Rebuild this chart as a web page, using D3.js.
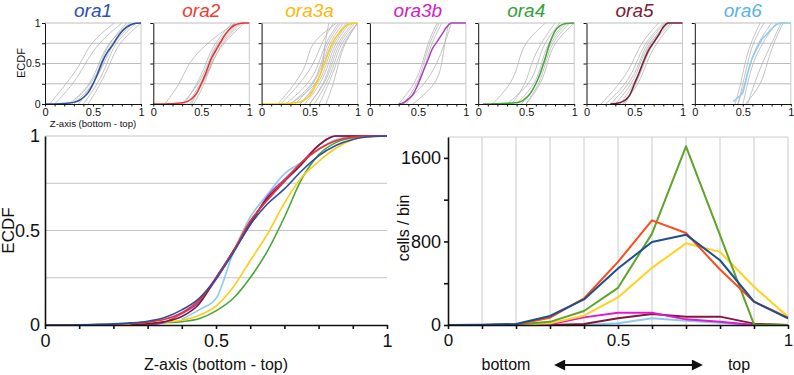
<!DOCTYPE html>
<html>
<head>
<meta charset="utf-8">
<script src="https://cdn.jsdelivr.net/npm/d3@7"></script>
<style>
  body { margin: 0; background: #fff; }
  svg { display: block; font-family: "Liberation Sans", Arial, sans-serif; }
</style>
</head>
<body>
<svg id="chart" width="794" height="375"></svg>
<script>
"use strict";

// ---- data ----
const names = ["ora1", "ora2", "ora3a", "ora3b", "ora4", "ora5", "ora6"];
const titleColors = ["#2a52b0", "#f23a32", "#ffb60a", "#cc22c4", "#33a236", "#7a2233", "#5ab2e8"];
const ecdfColors = ["#2b4ea6", "#ef3030", "#ffcc14", "#b040c0", "#44a838", "#7a1c34", "#8ccbf0"];
const histColors = ["#1b4f8e", "#ff4a1c", "#ffd21e", "#e018d0", "#5ea32a", "#82183a", "#8ccaf2"];

// pooled ECDF, read at these z positions
const ecdfX = [0, 0.05, 0.1, 0.15, 0.2, 0.25, 0.3, 0.35, 0.4, 0.45, 0.5, 0.55, 0.6, 0.65, 0.7, 0.75, 0.8, 0.85, 0.9, 0.95, 1];
const ora1Ecdf = [0, 0, 0.001, 0.003, 0.006, 0.011, 0.02, 0.04, 0.08, 0.14, 0.245, 0.38, 0.53, 0.64, 0.72, 0.815, 0.895, 0.95, 0.982, 0.996, 1];
const ora2Ecdf = [0, 0, 0, 0.002, 0.004, 0.008, 0.015, 0.03, 0.065, 0.13, 0.25, 0.39, 0.55, 0.66, 0.76, 0.86, 0.93, 0.975, 0.995, 1, 1];
const ora3aEcdf = [0, 0, 0, 0.001, 0.002, 0.004, 0.008, 0.015, 0.025, 0.05, 0.1, 0.2, 0.34, 0.48, 0.645, 0.78, 0.865, 0.935, 0.98, 0.997, 1];
const ora3bEcdf = [null, null, null, null, null, null, 0, 0.015, 0.06, 0.12, 0.24, 0.39, 0.53, 0.68, 0.77, 0.86, 0.95, 1, 1, 1, 1];
const ora4Ecdf = [null, 0, 0.001, 0.002, 0.003, 0.005, 0.008, 0.012, 0.018, 0.033, 0.075, 0.14, 0.25, 0.39, 0.57, 0.77, 0.9, 0.965, 0.99, 0.998, 1];
const ora5Ecdf = [null, null, null, null, null, 0, 0.006, 0.018, 0.045, 0.11, 0.25, 0.39, 0.54, 0.67, 0.76, 0.85, 0.95, 1, 1, 1, 1];
const ora6Ecdf = [null, null, null, null, null, null, null, null, 0.03, 0.08, 0.14, 0.38, 0.57, 0.69, 0.8, 0.86, 0.93, 0.98, 1, 1, 1];
const ecdfSeries = [ora1Ecdf, ora2Ecdf, ora3aEcdf, ora3bEcdf, ora4Ecdf, ora5Ecdf, ora6Ecdf];

// individual samples (grey): z position where ECDF reaches each level
const greyLevels = [0, 0.25, 0.5, 0.75, 1];
const ora1Grey = [
  [0.05, 0.22, 0.38, 0.46, 0.72], [0.1, 0.3, 0.42, 0.55, 0.8], [0.25, 0.5, 0.58, 0.66, 0.85],
  [0.3, 0.52, 0.6, 0.68, 0.9], [0.35, 0.5, 0.62, 0.7, 0.92], [0.28, 0.48, 0.56, 0.65, 0.88],
  [0.4, 0.55, 0.65, 0.72, 0.95], [0.45, 0.58, 0.68, 0.76, 1]
];
const ora2Grey = [
  [0.12, 0.28, 0.36, 0.55, 0.85], [0.3, 0.48, 0.57, 0.65, 0.85], [0.35, 0.5, 0.58, 0.66, 0.88],
  [0.32, 0.46, 0.55, 0.63, 0.82], [0.38, 0.52, 0.6, 0.68, 0.9], [0.4, 0.5, 0.62, 0.7, 0.92],
  [0.42, 0.54, 0.6, 0.72, 0.95]
];
const ora3aGrey = [
  [0.17, 0.35, 0.48, 0.5, 0.78], [0.2, 0.4, 0.55, 0.62, 0.75], [0.25, 0.5, 0.6, 0.66, 0.8],
  [0.3, 0.55, 0.62, 0.68, 0.82], [0.35, 0.55, 0.64, 0.7, 0.85], [0.4, 0.58, 0.65, 0.72, 0.88],
  [0.4, 0.6, 0.68, 0.74, 0.9], [0.45, 0.62, 0.7, 0.76, 0.92], [0.5, 0.65, 0.72, 0.78, 0.95],
  [0.5, 0.66, 0.74, 0.8, 0.97], [0.55, 0.68, 0.76, 0.82, 1], [0.6, 0.7, 0.78, 0.85, 1],
  [0.67, 0.75, 0.8, 0.86, 1], [0.3, 0.6, 0.64, 0.66, 0.7]
];
const ora3bGrey = [
  [0.3, 0.47, 0.55, 0.6, 0.7], [0.35, 0.5, 0.56, 0.62, 0.72], [0.38, 0.52, 0.58, 0.64, 0.75],
  [0.45, 0.7, 0.75, 0.78, 0.82], [0.35, 0.58, 0.7, 0.78, 0.85]
];
const ora4Grey = [
  [0.15, 0.35, 0.42, 0.47, 0.7], [0.3, 0.55, 0.62, 0.68, 0.85], [0.4, 0.6, 0.66, 0.72, 0.9],
  [0.45, 0.62, 0.68, 0.74, 0.92], [0.5, 0.64, 0.7, 0.76, 0.95], [0.5, 0.66, 0.72, 0.78, 1],
  [0.35, 0.5, 0.55, 0.65, 0.8]
];
const ora5Grey = [
  [0.15, 0.35, 0.48, 0.56, 0.75], [0.2, 0.42, 0.52, 0.6, 0.8], [0.25, 0.45, 0.55, 0.62, 0.82],
  [0.3, 0.48, 0.56, 0.64, 0.85], [0.35, 0.5, 0.58, 0.65, 0.86], [0.4, 0.52, 0.6, 0.68, 0.88],
  [0.38, 0.55, 0.62, 0.72, 0.9]
];
const ora6Grey = [
  [0.42, 0.48, 0.52, 0.58, 0.68], [0.45, 0.5, 0.55, 0.6, 0.72], [0.45, 0.52, 0.58, 0.65, 0.8],
  [0.5, 0.55, 0.6, 0.7, 0.85], [0.55, 0.62, 0.7, 0.8, 0.9], [0.53, 0.7, 0.75, 0.82, 0.92]
];
const greySeries = [ora1Grey, ora2Grey, ora3aGrey, ora3bGrey, ora4Grey, ora5Grey, ora6Grey];

// histogram, cells per bin
const binX = [0, 0.1, 0.2, 0.3, 0.4, 0.5, 0.6, 0.7, 0.8, 0.9, 1];
const ora1Bins = [0, 3, 10, 86, 245, 541, 795, 865, 620, 223, 64];
const ora2Bins = [0, 0, 5, 70, 254, 604, 1002, 881, 531, 223, 70];
const ora3aBins = [0, 0, 0, 16, 89, 264, 547, 782, 700, 366, 80];
const ora3bBins = [0, 0, 0, 6, 73, 118, 118, 54, 32, 0, 0];
const ora4Bins = [0, 0, 5, 30, 134, 356, 875, 1711, 860, 5, 0];
const ora5Bins = [0, 0, 0, 0, 10, 64, 105, 80, 80, 13, 0];
const ora6Bins = [0, 0, 0, 0, 0, 16, 64, 41, 22, 0, 0];
const binSeries = [ora1Bins, ora2Bins, ora3aBins, ora3bBins, ora4Bins, ora5Bins, ora6Bins];

const zTicks = [0, 0.1, 0.2, 0.3, 0.4, 0.5, 0.6, 0.7, 0.8, 0.9, 1];
const ecdfTicks = [0, 0.25, 0.5, 0.75, 1];
const countTicks = [0, 400, 800, 1200, 1600];

// ---- drawing ----
const svg = d3.select("#chart");
const labelFmt = (d) => (d === 0 || d === 0.5 || d === 1) ? String(d) : "";

function styleAxis(sel, fontSize, width) {
  sel.select(".domain").attr("stroke", "#111").attr("stroke-width", width);
  sel.selectAll(".tick line").attr("stroke", "#111").attr("stroke-width", width);
  sel.selectAll(".tick text").attr("fill", "#111").attr("font-size", fontSize).attr("font-family", null);
}

function smallPanel(i) {
  const left = 45 + i * 108.3, top = 23, w = 96, h = 81;
  const g = svg.append("g").attr("transform", `translate(${left},${top})`);
  const x = d3.scaleLinear().domain([0, 1]).range([0, w]);
  const y = d3.scaleLinear().domain([0, 1]).range([h, 0]);

  g.selectAll("line.grid").data(ecdfTicks.slice(1)).join("line")
    .attr("x1", 0).attr("x2", w).attr("y1", y).attr("y2", y)
    .attr("stroke", "#bdbdbd").attr("stroke-width", 1);
  g.append("line").attr("x1", w).attr("x2", w).attr("y1", 0).attr("y2", h)
    .attr("stroke", "#c8c8c8");

  const greyLine = d3.line()
    .x((d) => x(d))
    .y((d, k) => y(greyLevels[k]))
    .curve(d3.curveBasis);
  g.selectAll("path.grey").data(greySeries[i]).join("path")
    .attr("d", greyLine).attr("fill", "none")
    .attr("stroke", "#b4b4b4").attr("stroke-width", 0.8);

  const line = d3.line()
    .defined((d) => d != null)
    .x((d, k) => x(ecdfX[k]))
    .y((d) => y(d))
    .curve(d3.curveMonotoneX);
  g.append("path").attr("d", line(ecdfSeries[i])).attr("fill", "none")
    .attr("stroke", ecdfColors[i]).attr("stroke-width", 1.5);

  g.append("g").attr("transform", `translate(0,${h})`)
    .call(d3.axisBottom(x).tickValues(zTicks).tickSize(2.5).tickSizeOuter(0).tickPadding(2).tickFormat(labelFmt))
    .call(styleAxis, 11, 1);
  g.append("g")
    .call(d3.axisLeft(y).tickValues(ecdfTicks).tickSize(3).tickSizeOuter(0).tickPadding(1.5)
      .tickFormat(i === 0 ? labelFmt : () => ""))
    .call(styleAxis, 10.5, 1);

  g.append("text").attr("x", w / 2).attr("y", -6).attr("text-anchor", "middle")
    .attr("font-size", 19).attr("font-style", "italic").attr("fill", titleColors[i])
    .text(names[i]);
}

names.forEach((n, i) => smallPanel(i));

svg.append("text").attr("transform", "translate(24.5,63) rotate(-90)")
  .attr("text-anchor", "middle").attr("font-size", 11).attr("fill", "#111").text("ECDF");
svg.append("text").attr("x", 93).attr("y", 127).attr("text-anchor", "middle")
  .attr("font-size", 9.6).attr("fill", "#111").text("Z-axis (bottom - top)");

// pooled ECDF
{
  const left = 45, top = 136, w = 342, h = 189;
  const g = svg.append("g").attr("transform", `translate(${left},${top})`);
  const x = d3.scaleLinear().domain([0, 1]).range([0, w]);
  const y = d3.scaleLinear().domain([0, 1]).range([h, 0]);

  g.selectAll("line.grid").data(ecdfTicks.slice(1)).join("line")
    .attr("x1", 0).attr("x2", w).attr("y1", y).attr("y2", y)
    .attr("stroke", "#c4c4c4").attr("stroke-width", 1);

  const line = d3.line()
    .defined((d) => d != null)
    .x((d, k) => x(ecdfX[k]))
    .y((d) => y(d))
    .curve(d3.curveMonotoneX);
  const order = [4, 2, 6, 3, 5, 1, 0];
  order.forEach((i) => {
    g.append("path").attr("d", line(ecdfSeries[i])).attr("fill", "none")
      .attr("stroke", ecdfColors[i]).attr("stroke-width", 1.6);
  });

  g.append("g").attr("transform", `translate(0,${h})`)
    .call(d3.axisBottom(x).tickValues(zTicks).tickSize(4).tickSizeOuter(0).tickPadding(5).tickFormat(labelFmt))
    .call(styleAxis, 18, 1.6);
  g.append("g")
    .call(d3.axisLeft(y).tickValues(ecdfTicks).tickSize(0).tickSizeOuter(0).tickPadding(5).tickFormat(labelFmt))
    .call(styleAxis, 18, 1.6);

  svg.append("text").attr("transform", `translate(14,${top + h / 2}) rotate(-90)`)
    .attr("text-anchor", "middle").attr("font-size", 17).attr("fill", "#111").text("ECDF");
  svg.append("text").attr("x", left + w / 2).attr("y", 370).attr("text-anchor", "middle")
    .attr("font-size", 16).attr("fill", "#111").text("Z-axis (bottom - top)");
}

// histogram
{
  const left = 448, top = 137, w = 340, h = 188;
  const g = svg.append("g").attr("transform", `translate(${left},${top})`);
  const x = d3.scaleLinear().domain([0, 1]).range([0, w]);
  const y = d3.scaleLinear().domain([0, 1800]).range([h, 0]);

  g.selectAll("line.vgrid").data(zTicks.slice(1)).join("line")
    .attr("x1", x).attr("x2", x).attr("y1", 0).attr("y2", h)
    .attr("stroke", "#cccccc").attr("stroke-width", 1);
  g.append("line").attr("x1", 0).attr("x2", w).attr("y1", 0).attr("y2", 0)
    .attr("stroke", "#cccccc");

  const line = d3.line().x((d, k) => x(binX[k])).y((d) => y(d));
  const order = [6, 5, 3, 2, 4, 1, 0];
  order.forEach((i) => {
    g.append("path").attr("d", line(binSeries[i])).attr("fill", "none")
      .attr("stroke", histColors[i]).attr("stroke-width", 2)
      .attr("stroke-linejoin", "round");
  });

  g.append("g").attr("transform", `translate(0,${h})`)
    .call(d3.axisBottom(x).tickValues(zTicks).tickSize(4).tickSizeOuter(0).tickPadding(5).tickFormat(labelFmt))
    .call(styleAxis, 17, 1.6);
  g.append("g")
    .call(d3.axisLeft(y).tickValues(countTicks).tickSize(4).tickSizeOuter(0).tickPadding(3)
      .tickFormat((d) => (d % 800 === 0) ? String(d) : ""))
    .call(styleAxis, 18, 1.6);

  svg.append("text").attr("transform", `translate(409,228) rotate(-90)`)
    .attr("text-anchor", "middle").attr("font-size", 16).attr("fill", "#111").text("cells / bin");

  svg.append("text").attr("x", 506).attr("y", 370).attr("text-anchor", "middle")
    .attr("font-size", 16).attr("fill", "#111").text("bottom");
  svg.append("text").attr("x", 739).attr("y", 370).attr("text-anchor", "middle")
    .attr("font-size", 16).attr("fill", "#111").text("top");

  svg.append("defs").append("marker").attr("id", "head")
    .attr("viewBox", "0 0 10 10").attr("refX", 1).attr("refY", 5)
    .attr("markerWidth", 6).attr("markerHeight", 5).attr("markerUnits", "strokeWidth")
    .attr("orient", "auto-start-reverse")
    .append("path").attr("d", "M0,0 L10,5 L0,10 Z").attr("fill", "#111");
  svg.append("line").attr("x1", 564).attr("x2", 693).attr("y1", 365).attr("y2", 365)
    .attr("stroke", "#111").attr("stroke-width", 2.2)
    .attr("marker-start", "url(#head)").attr("marker-end", "url(#head)");
}
</script>
</body>
</html>
